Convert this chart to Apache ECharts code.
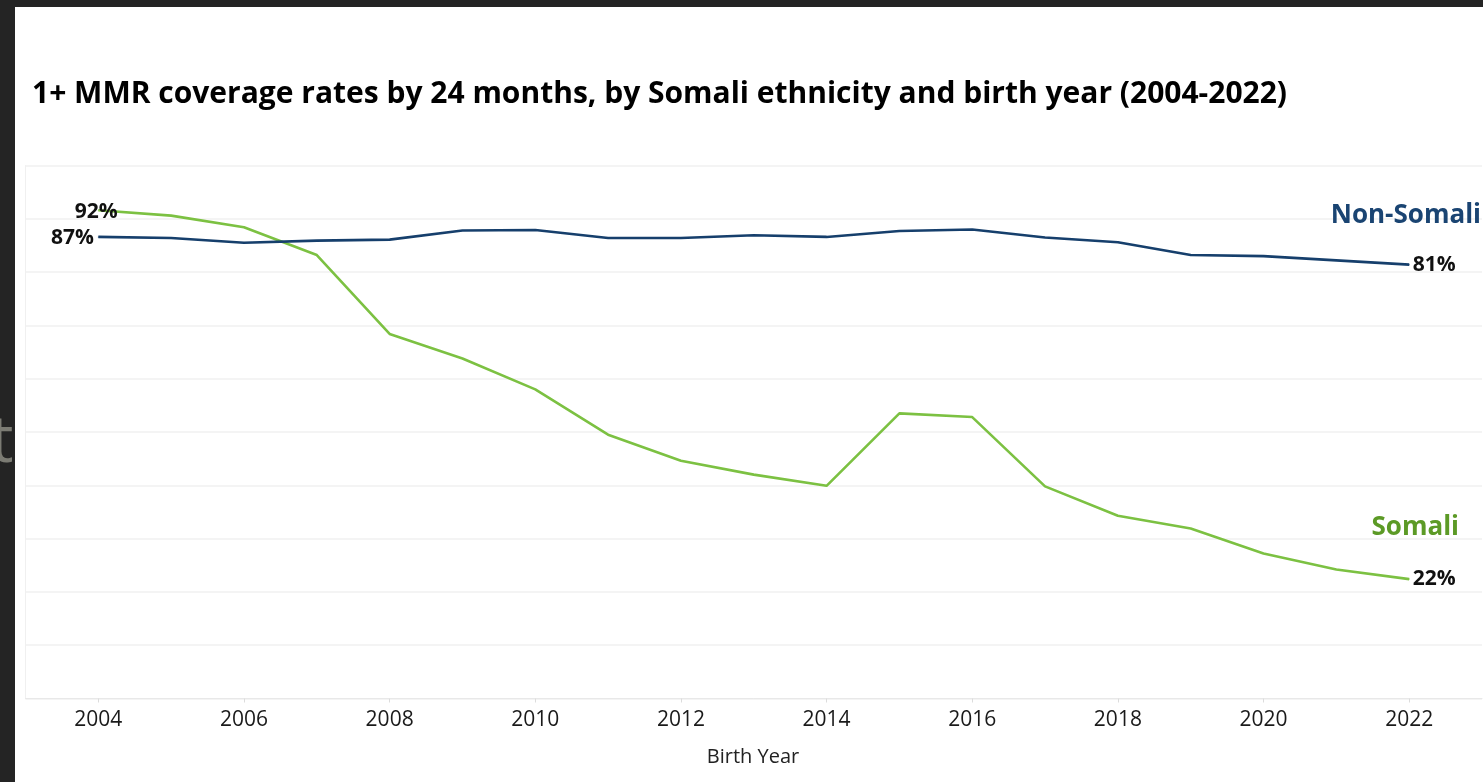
<!DOCTYPE html>
<html>
<head>
<meta charset="utf-8">
<script src="https://cdn.jsdelivr.net/npm/echarts@6/dist/echarts.min.js"></script>
<style>
html,body{margin:0;padding:0;background:#242424;overflow:hidden;}
#chart{position:absolute;left:0;top:0;width:1483px;height:782px;}
</style>
</head>
<body>
<div id="chart"></div>
<script>
const years = [2004,2005,2006,2007,2008,2009,2010,2011,2012,2013,2014,2015,2016,2017,2018,2019,2020,2021,2022];
const nonSomali = [86.6,86.4,85.5,85.9,86.1,87.8,87.9,86.4,86.4,86.9,86.6,87.7,88.0,86.5,85.6,83.2,83.0,82.2,81.4];
const somali = [91.6,90.6,88.4,83.2,68.4,63.8,58.0,49.5,44.6,42.0,39.9,53.5,52.8,39.8,34.3,31.9,27.2,24.2,22.4];
const tickYears = [2004,2006,2008,2010,2012,2014,2016,2018,2020,2022];
const titleText = '1+ MMR coverage rates by 24 months, by Somali ethnicity and birth year (2004-2022)';
const xTitle = 'Birth Year';
const nameNonSomali = 'Non-Somali';
const nameSomali = 'Somali';

const FONT = '"Open Sans", "DejaVu Sans", sans-serif';
const BLUE = '#163f6c', GREEN = '#7cc142';

function buildData(vals, firstPos, firstOffset, firstDist) {
  const last = vals.length - 1;
  return vals.map((v, i) => {
    const item = { value: [years[i], v] };
    if (i === 0) item.label = { show: true, position: firstPos, offset: firstOffset, distance: firstDist };
    else if (i === last) item.label = { show: true, position: 'right', distance: 3 };
    else item.label = { show: false };
    return item;
  });
}

const labelStyle = {
  fontFamily: FONT, fontWeight: 'bold', fontSize: 21, color: '#111',
  formatter: p => Math.round(p.value[1]) + '%'
};

const chart = echarts.init(document.getElementById('chart'), null, {renderer: 'canvas'});
chart.setOption({
  backgroundColor: 'transparent',
  animation: false,
  textStyle: { fontFamily: FONT },
  graphic: [
    { type: 'text', z: -30, left: -10, top: 410, style: { text: 't', font: '66px ' + FONT, fill: '#7b7b73' } },
    { type: 'rect', z: -20, shape: { x: 15, y: 7, width: 1468, height: 775 }, style: { fill: '#ffffff' } },
    { type: 'text', z: 50, style: { text: titleText, x: 32, y: 94, verticalAlign: 'middle', font: 'bold 30px ' + FONT, fill: '#000' } },
    { type: 'text', z: 50, style: { text: nameNonSomali, x: 1481, y: 216, align: 'right', verticalAlign: 'middle', font: 'bold 26px ' + FONT, fill: '#1a4472' } },
    { type: 'text', z: 50, style: { text: nameSomali, x: 1459, y: 528, align: 'right', verticalAlign: 'middle', font: 'bold 26px ' + FONT, fill: '#5c9a26' } },
    { type: 'text', z: 50, style: { text: xTitle, x: 753, y: 757, align: 'center', verticalAlign: 'middle', font: '20px ' + FONT, fill: '#222' } }
  ],
  grid: { left: 25.5, right: 1, top: 165.5, bottom: 83.5 },
  xAxis: {
    type: 'value', min: 2003, max: 2023,
    splitLine: { show: false },
    axisLine: { show: true, lineStyle: { color: '#e8e8e8', width: 1 } },
    axisTick: { show: true, customValues: tickYears, length: 4, lineStyle: { color: '#dcdcdc' } },
    axisLabel: { customValues: tickYears, formatter: v => String(v), fontSize: 21, color: '#1a1a1a', margin: 11, fontFamily: FONT }
  },
  yAxis: {
    type: 'value', min: 0, max: 100, interval: 10,
    axisLabel: { show: false },
    axisTick: { show: false },
    axisLine: { show: true, lineStyle: { color: '#f0f0f0' } },
    splitLine: { show: true, lineStyle: { color: '#f0f0f0', width: 1.5 } }
  },
  series: [
    {
      name: nameNonSomali, type: 'line', data: buildData(nonSomali, 'left', [0, 1], 4),
      symbol: 'circle', symbolSize: 1, itemStyle: { color: BLUE },
      lineStyle: { color: BLUE, width: 2.6 }, label: labelStyle, z: 3
    },
    {
      name: nameSomali, type: 'line', data: buildData(somali, 'inside', [-2, 2], 0),
      symbol: 'circle', symbolSize: 1, itemStyle: { color: GREEN },
      lineStyle: { color: GREEN, width: 2.6 }, label: labelStyle, z: 2
    }
  ]
});
</script>
</body>
</html>
